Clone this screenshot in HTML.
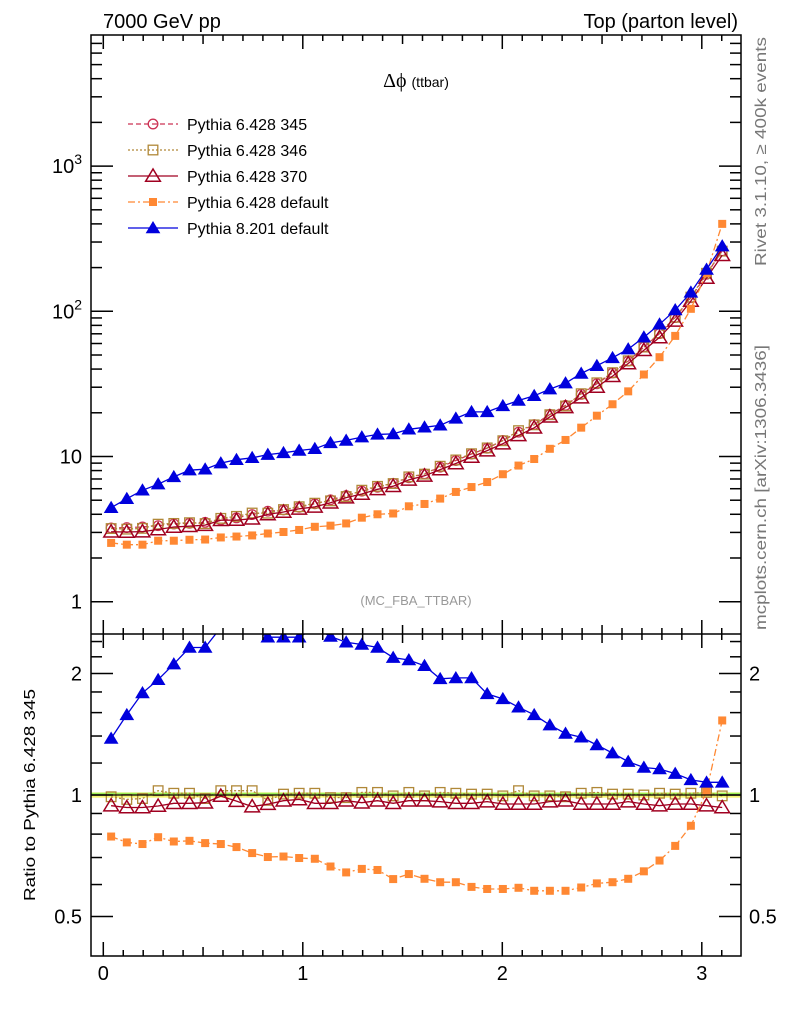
<!DOCTYPE html>
<html><head><meta charset="utf-8">
<style>
html,body{margin:0;padding:0;background:#fff;}
svg{display:block;font-family:"Liberation Sans",sans-serif;}
</style></head>
<body>
<svg id="chart" width="786" height="1024" viewBox="0 0 786 1024" xmlns="http://www.w3.org/2000/svg">
<text x="103" y="28" font-size="20">7000 GeV pp</text>
<text x="738" y="28" font-size="20" text-anchor="end">Top (parton level)</text>
<text x="416" y="87" font-size="20" text-anchor="middle" font-family="Liberation Serif, serif">Δϕ <tspan font-size="14" font-family="Liberation Sans, sans-serif">(ttbar)</tspan></text>
<text x="416" y="605" font-size="13" fill="#999" text-anchor="middle">(MC_FBA_TTBAR)</text>
<text transform="translate(766,266) rotate(-90)" font-size="16" fill="#777" textLength="229" lengthAdjust="spacingAndGlyphs">Rivet 3.1.10, ≥ 400k events</text>
<text transform="translate(766,630) rotate(-90)" font-size="16" fill="#777" textLength="285" lengthAdjust="spacingAndGlyphs">mcplots.cern.ch [arXiv:1306.3436]</text>
<text transform="translate(35,795) rotate(-90)" font-size="16" text-anchor="middle" textLength="212" lengthAdjust="spacingAndGlyphs">Ratio to Pythia 6.428 345</text>
<g id="plots"></g>
<g id="legend"></g>
</svg>
<script>
const categories = Array.from({length:40},(_,i)=>(i+0.5)*Math.PI/40);
const mainP345 = [3.22,3.24,3.27,3.34,3.43,3.47,3.52,3.66,3.78,3.98,4.2,4.29,4.47,4.72,5.03,5.38,5.77,6.14,6.54,7.13,7.6,8.44,9.38,10.4,11.4,12.9,14.7,16.6,19.5,22.5,26.8,31.7,37.6,45.4,56.7,70.2,90.5,124,180,261];
const ratioP346 = [0.99,0.975,0.98,1.025,1.01,1.01,0.98,1.025,1.025,1.025,0.97,1.005,1.01,1.01,0.985,0.985,1.015,1.015,0.995,1.015,0.995,1.015,1.01,1.005,1.005,0.995,1.025,0.995,0.995,0.99,1.01,1.015,1.005,1.005,1.0,1.01,1.005,1.01,1.015,0.995];
const ratioP370 = [0.941,0.931,0.931,0.939,0.954,0.954,0.957,0.994,0.966,0.936,0.949,0.968,0.975,0.954,0.954,0.968,0.957,0.968,0.954,0.968,0.968,0.963,0.954,0.954,0.963,0.95,0.95,0.95,0.963,0.968,0.95,0.95,0.95,0.963,0.95,0.941,0.95,0.95,0.941,0.931];
const ratioP6def = [0.789,0.763,0.756,0.786,0.767,0.77,0.76,0.756,0.743,0.718,0.702,0.704,0.698,0.695,0.665,0.643,0.656,0.652,0.619,0.637,0.62,0.608,0.608,0.592,0.585,0.585,0.589,0.579,0.579,0.579,0.59,0.604,0.608,0.62,0.647,0.688,0.748,0.839,1.019,1.53];
const ratioP8def = [1.38,1.58,1.79,1.93,2.11,2.32,2.32,2.6,2.6,2.6,2.46,2.46,2.46,2.6,2.47,2.39,2.36,2.32,2.19,2.16,2.09,1.94,1.95,1.95,1.78,1.73,1.65,1.58,1.49,1.42,1.39,1.33,1.27,1.21,1.17,1.16,1.13,1.09,1.075,1.075];
const mainP346 = [3.19,3.16,3.2,3.42,3.46,3.5,3.45,3.75,3.87,4.08,4.07,4.31,4.51,4.77,4.95,5.3,5.86,6.23,6.51,7.24,7.56,8.57,9.47,10.45,11.46,12.84,15.07,16.52,19.4,22.28,27.07,32.18,37.79,45.63,56.7,70.9,90.95,125.2,182.7,259.7];
const mainP370 = [3.03,3.02,3.04,3.14,3.27,3.31,3.37,3.64,3.65,3.73,3.99,4.15,4.36,4.5,4.8,5.21,5.52,5.94,6.24,6.9,7.36,8.13,8.95,9.92,10.98,12.26,13.97,15.77,18.78,21.78,25.46,30.12,35.72,43.72,53.87,66.06,85.98,117.8,169.4,243];
const mainP6def = [2.54,2.47,2.47,2.63,2.63,2.67,2.68,2.77,2.81,2.86,2.95,3.02,3.12,3.28,3.34,3.46,3.79,4.0,4.05,4.54,4.71,5.13,5.7,6.16,6.67,7.55,8.66,9.61,11.3,13.0,15.8,19.1,22.9,28.1,36.7,48.3,67.7,104,183,400];
const mainP8def = [4.44,5.12,5.85,6.45,7.24,8.05,8.17,9.0,9.5,9.8,10.3,10.6,11.0,11.3,12.4,12.9,13.6,14.2,14.3,15.4,15.9,16.4,18.3,20.3,20.3,22.3,24.3,26.2,29.1,32.0,37.3,42.2,47.8,54.9,66.3,81.4,102,135,194,281];
const ratioP345 = categories.map(()=>1);
const xTicks = [0,1,2,3];
const mainTickLabels = ["1","10","10²","10³"];
const ratioTicks = [0.5,1,2];

const NS="http://www.w3.org/2000/svg";
const L=91,R=741,T=35,M=634,B=956;
const X0=103.3,XU=199.5;
const sx=v=>X0+v*XU;
const syMain=v=>601.7-145.2*Math.log10(v);
const syRatio=v=>795-121.5*Math.log2(v);
const plots=document.getElementById('plots');
function el(tag,attrs,parent){const e=document.createElementNS(NS,tag);for(const k in attrs)e.setAttribute(k,attrs[k]);(parent||plots).appendChild(e);return e;}

const defs=el('defs',{});
const c1=el('clipPath',{id:'cm'},defs);el('rect',{x:L,y:T,width:R-L,height:M-T},c1);
const c2=el('clipPath',{id:'cr'},defs);el('rect',{x:L,y:M,width:R-L,height:B-M},c2);

const band=el('rect',{x:L,y:syRatio(1.015),width:R-L,height:syRatio(0.985)-syRatio(1.015),fill:'#f4f470','clip-path':'url(#cr)'});


const gl=el('line',{x1:L,x2:R,y1:syRatio(1)-1.5,y2:syRatio(1)-1.5,stroke:'#99ee55','stroke-width':1.5});



function marker(g,shape,x,y,col,fill,s){
  if(shape==='circle')return el('circle',{cx:x,cy:y,r:s*0.8,fill:'none',stroke:col,'stroke-width':1.3},g);
  if(shape==='square')return el('rect',{x:x-s*0.8,y:y-s*0.8,width:s*1.6,height:s*1.6,fill:fill?col:'none',stroke:col,'stroke-width':fill?0:1.3},g);
  if(shape==='tri'){const h=s;return el('polygon',{points:`${x},${y-h} ${x-h*1.05},${y+h*0.75} ${x+h*1.05},${y+h*0.75}`,fill:fill?col:'none',stroke:col,'stroke-width':fill?0:1.5},g);}
}
const series=[
 {key:'p345',name:'Pythia 6.428 345',main:mainP345,ratio:ratioP345,col:'#cc3355',dash:'5,3',shape:'circle',fill:false,s:6},
 {key:'p346',name:'Pythia 6.428 346',main:mainP346,ratio:ratioP346,col:'#b08838',dash:'2,2',shape:'square',fill:false,s:6},
 {key:'p370',name:'Pythia 6.428 370',main:mainP370,ratio:ratioP370,col:'#a00020',dash:'',shape:'tri',fill:false,s:7},
 {key:'p6def',name:'Pythia 6.428 default',main:mainP6def,ratio:ratioP6def,col:'#ff8833',dash:'7,3,2,3',shape:'square',fill:true,s:5},
 {key:'p8def',name:'Pythia 8.201 default',main:mainP8def,ratio:ratioP8def,col:'#0000dd',dash:'',shape:'tri',fill:true,s:7}
];
series.forEach(sr=>{
  [['main',syMain,'cm'],['ratio',syRatio,'cr']].forEach(([pan,sy,clip])=>{
    if(pan==='ratio'&&sr.key==='p345')return;
    const g=el('g',{'clip-path':`url(#${clip})`});
    
    
    const vals=sr[pan];
    const pts=categories.map((c,i)=>`${sx(c).toFixed(1)},${sy(vals[i]).toFixed(1)}`).join(' ');
    const ln=el('polyline',{points:pts,fill:'none',stroke:sr.col,'stroke-width':1.3,'stroke-dasharray':sr.dash},g);
    
    
    categories.forEach((c,i)=>{
      const m=marker(g,sr.shape,sx(c),sy(vals[i]),sr.col,sr.fill,sr.s);
      
      
    });
  });
});
const one=el('line',{x1:L,x2:R,y1:syRatio(1),y2:syRatio(1),stroke:'#000','stroke-width':1.3});



const ax=el('g',{stroke:'#000','stroke-width':1.5,fill:'none'});


el('rect',{x:L,y:T,width:R-L,height:B-T},ax);
el('line',{x1:L,x2:R,y1:M,y2:M},ax);
for(let k=0;k<=32;k++){const v=k/10;const x=sx(v);if(x>R)break;const big=k%10===0,mid=k%5===0;const len=big?14:(mid?9:6);
  [[T,1],[M,1],[M,-1],[B,-1]].forEach(([y,d])=>{el('line',{x1:x,x2:x,y1:y,y2:y+d*len},ax);});}
xTicks.forEach(v=>{const t=el('text',{x:sx(v),y:980,'font-size':20,'text-anchor':'middle',stroke:'none',fill:'#000'});t.textContent=String(v);
  });
for(let d=0;d<4;d++){for(let m=1;m<10;m++){const v=m*Math.pow(10,d);const y=syMain(v);if(y<T)break;const len=m===1?22:11;
  el('line',{x1:L,x2:L+len,y1:y,y2:y},ax);el('line',{x1:R,x2:R-len,y1:y,y2:y},ax);}}
mainTickLabels.forEach((s,d)=>{const t=el('text',{x:82,y:syMain(Math.pow(10,d))+7,'font-size':20,'text-anchor':'end',stroke:'none',fill:'#000'});
  if(d>=2){t.textContent='10';const sp=el('tspan',{dy:-9,'font-size':14},t);sp.textContent=String(d);}else t.textContent=s;
  });
[0.5,0.6,0.7,0.8,0.9,1,1.2,1.4,1.6,1.8,2,2.2,2.4].forEach(v=>{const y=syRatio(v);const len=ratioTicks.includes(v)?22:11;
  el('line',{x1:L,x2:L+len,y1:y,y2:y},ax);el('line',{x1:R,x2:R-len,y1:y,y2:y},ax);});
ratioTicks.forEach(v=>{[[82,'end'],[749,'start']].forEach(([x,a])=>{const t=el('text',{x:x,y:syRatio(v)+7,'font-size':20,'text-anchor':a,stroke:'none',fill:'#000'});t.textContent=String(v);
  });});

const lg=document.getElementById('legend');
series.forEach((sr,i)=>{const y=124+i*26;const g=el('g',{},lg);
  
  el('line',{x1:128,x2:178,y1:y,y2:y,stroke:sr.col,'stroke-width':1.3,'stroke-dasharray':sr.dash},g);
  marker(g,sr.shape,153,y,sr.col,sr.fill,sr.s);
  const t=el('text',{x:187,y:y+6,'font-size':16},g);t.textContent=sr.name;});
</script>
</body></html>
